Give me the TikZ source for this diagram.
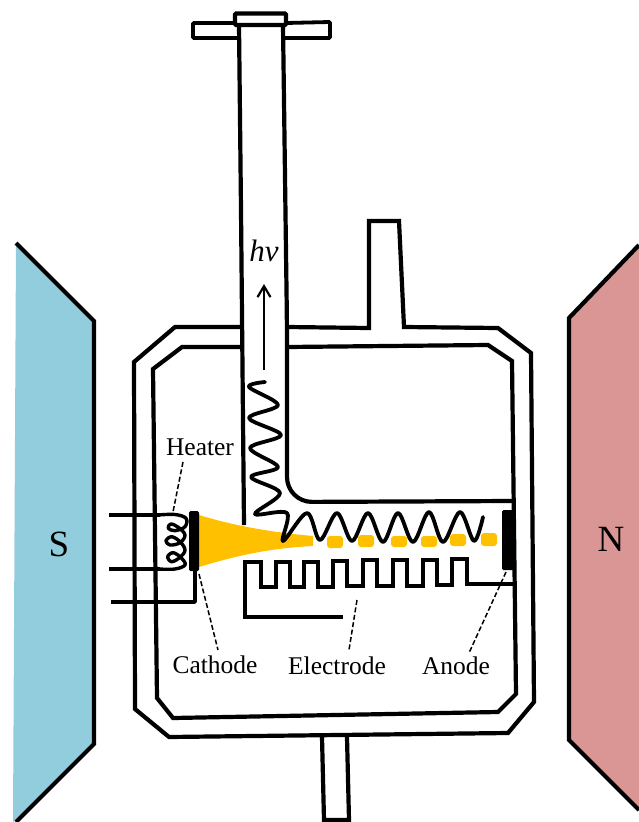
\documentclass[tikz,border=0pt]{standalone}
\usepackage{fontspec}
\setmainfont{Liberation Serif}
\usetikzlibrary{arrows.meta}
\definecolor{magS}{RGB}{146,205,222}
\definecolor{magN}{RGB}{217,150,148}
\definecolor{beam}{RGB}{255,192,0}
\tikzset{
  wall/.style={draw=black,line width=4.2pt,line join=miter,fill=none},
  wire/.style={draw=black,line width=3.8pt,line join=round,line cap=round},
  leader/.style={draw=black,line width=1.5pt,dash pattern=on 5pt off 2.5pt},
  label/.style={inner sep=0pt,anchor=base,font=\fontsize{25.5pt}{28pt}\selectfont},
  pole/.style={inner sep=0pt,anchor=base,font=\fontsize{37pt}{40pt}\selectfont},
  plate/.style={fill=black,rounded corners=1.5pt},
  bunch/.style={fill=beam,rounded corners=3pt},
}
\begin{document}
\begin{tikzpicture}[x=1pt,y=-1pt]
\useasboundingbox (0,0) rectangle (639,822);
% magnets
\fill[magS] (16,243) -- (94,321) -- (94,744) -- (13,822) -- cycle;
\draw[wall] (16,243) -- (94,321) -- (94,744) -- (16,822);
\fill[magN] (639,245) -- (569,318) -- (569,740) -- (639,810) -- cycle;
\draw[wall] (639,245) -- (569,318) -- (569,740) -- (639,810);
% flange and output tube
\draw[wall,line width=3.8pt,rounded corners=1pt] (235,23) -- (193,23) -- (193,38) -- (238,38);
\draw[wall,line width=3.8pt,rounded corners=1pt] (286,23) -- (330,22) -- (330,38) -- (284,38);
\draw[wall,rounded corners=1pt] (235,13.5) rectangle (286,25);
\draw[wall] (239,25) -- (241,210) -- (244,525);
\draw[wall,rounded corners=25pt] (283,25) -- (287,327) -- (287,502) -- (513,501);
% outer envelope
\draw[wall] (241,327) -- (175,327) -- (134,362) -- (135,709) -- (169,737) -- (508,733) -- (534,702) -- (531,353) -- (498,328) -- (404,327) -- (399,221) -- (369,221) -- (369,328) -- (287,327);
% inner envelope
\draw[wall] (241,347) -- (182,347) -- (153,369) -- (157,698) -- (173,718) -- (498,712) -- (516,694) -- (512,361) -- (488,345) -- (287,347);
% bottom stub
\draw[wall] (322,737) -- (324,820) -- (349,820) -- (347,737);
% beam
\fill[beam] (199,515) .. controls (235,526) and (270,532) .. (313,536) -- (313,546) .. controls (270,548) and (235,556) .. (199,567) -- cycle;
\foreach \xa/\xb/\ya/\yb in {327/343/536/548,358/374/535/547,391/407/536/547,421/437/536/547,450/466/534/546,481/497/533/546}
  \path[bunch] (\xa,\ya) rectangle (\xb,\yb);
% slow-wave helix
\draw[wire] plot[smooth,tension=0.55] coordinates {
 (265,382) (249,387) (278,405) (249,418) (281,435) (250,448) (278,467) (251,477) (280,493) (255,514) (287,513) (283,541)
 (307,513) (320,540) (337,513) (352,541) (368,513) (383,542) (398,513) (413,542) (429,512) (443,542) (460,512) (474,541) (483,517)};
% electrode
\draw[wall,line width=3.8pt] (343,617) -- (245,617) -- (245,562) -- (261,562) -- (261,587) -- (276,587) -- (276,562) -- (290,562) -- (290,587) -- (304,587) -- (304,562) -- (318,562) -- (318,587) -- (333,587) -- (333,561) -- (347,561) -- (347,586) -- (363,586) -- (363,560) -- (377,560) -- (377,586) -- (393,586) -- (393,560) -- (407,560) -- (407,586) -- (423,586) -- (423,560) -- (437,560) -- (437,585) -- (452,585) -- (452,559) -- (467,559) -- (467,584) -- (513,584);
% heater leads and coil
\draw[wire,line cap=butt] (109,515) -- (160,515);
\draw[wire,line cap=butt] (109,569) -- (160,569);
\draw[wire,line cap=butt] (111,602) -- (195,602) -- (195,568);
\draw[wire,line width=3.4pt] plot[smooth,tension=0.6] coordinates {
 (158,515) (175,514.5) (186,518.3) (185,526.7) (175,530.7) (168.3,528.3) (170.7,524) (178.3,527.3) (185,535) (180,542.7) (170,545) (166,540.7) (171.7,536.7) (180,541.7) (185,550) (180,557.3) (171.7,561.7) (167.7,556.7) (173.3,552.7) (181.7,558.3) (185,565) (175,569) (158,569)};
% cathode and anode
\path[plate] (189,511) rectangle (199,571);
\path[plate] (502,510) rectangle (515,570);
% photon arrow
\draw[line width=2.4pt,-{Straight Barb[length=11pt,width=13pt,line width=2.2pt]}] (264,370) -- (264,284);
% leaders
\draw[leader] (183,462) -- (173,512);
\draw[leader] (199,574) -- (218,650);
\draw[leader] (357,600) -- (349,650);
\draw[leader] (506,572) -- (469,653);
% labels
\node[label] (heater) at (200,455) {Heater};
\node[label] (cathode) at (215,673) {Cathode};
\node[label] (electrode) at (337,674) {Electrode};
\node[label] (anode) at (456,674) {Anode};
\node[label,font=\fontsize{31pt}{34pt}\selectfont\itshape] (hv) at (264,261) {hv};
\node[pole] (south) at (59,556) {S};
\node[pole] (north) at (611,551) {N};
\end{tikzpicture}
\end{document}
